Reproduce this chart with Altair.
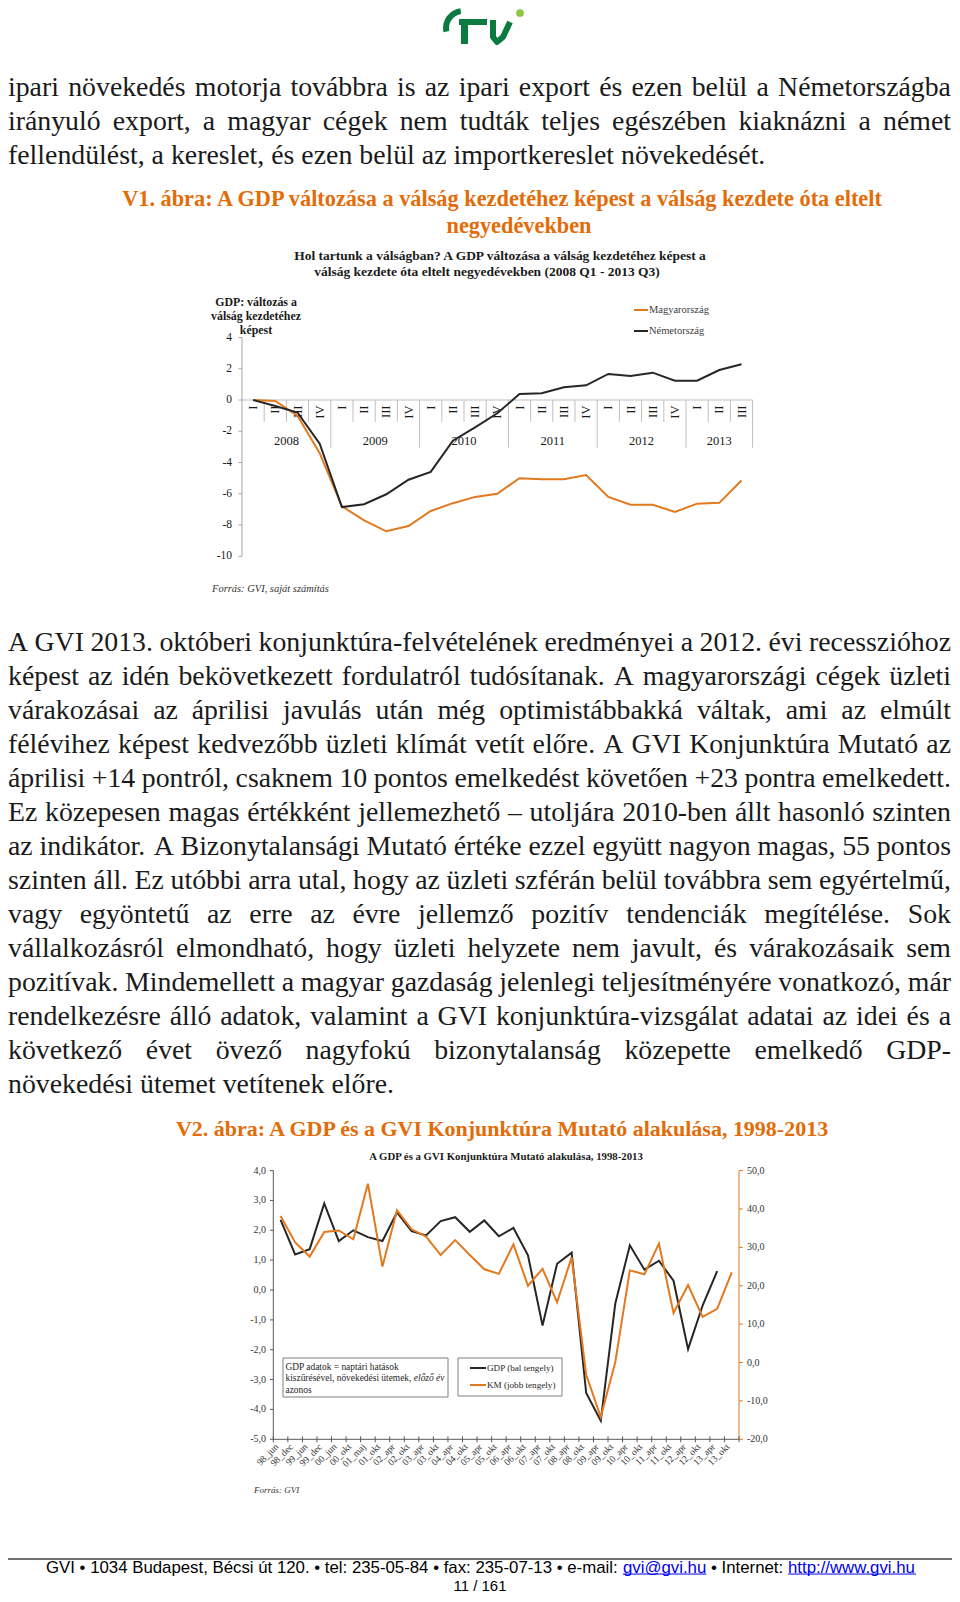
import unicodedata
import pandas as pd
import altair as alt

# ============================== DATA ==============================
para1_lines = [
    "ipari növekedés motorja továbbra is az ipari export és ezen belül a Németországba",
    "irányuló export, a magyar cégek nem tudták teljes egészében kiaknázni a német",
    "fellendülést, a kereslet, és ezen belül az importkereslet növekedését.",
]
v1_title = ["V1. ábra: A GDP változása a válság kezdetéhez képest a válság kezdete óta eltelt",
            "negyedévekben"]
c1_title = ["Hol tartunk a válságban? A GDP változása a válság kezdetéhez képest a",
            "válság kezdete óta eltelt negyedévekben (2008 Q1 - 2013 Q3)"]
c1_ytitle = ["GDP: változás a", "válság kezdetéhez", "képest"]
c1_series = ["Magyarország", "Németország"]
c1_quarters = ["I", "II", "III", "IV"] * 5 + ["I", "II", "III"]
c1_years = ["2008", "2009", "2010", "2011", "2012", "2013"]
c1_hungary = [0.0, -0.06, -1.0, -3.4, -6.8, -7.7, -8.4, -8.06, -7.1, -6.6, -6.2, -6.0,
              -5.0, -5.07, -5.07, -4.8, -6.2, -6.7, -6.7, -7.16, -6.63, -6.58, -5.15]
c1_germany = [0.0, -0.38, -0.8, -2.8, -6.85, -6.67, -6.03, -5.1, -4.6, -2.6, -1.75, -0.85,
              0.38, 0.43, 0.81, 0.94, 1.67, 1.54, 1.75, 1.24, 1.24, 1.92, 2.29]
c1_yticks = [4, 2, 0, -2, -4, -6, -8, -10]
c1_source = "Forrás: GVI, saját számítás"

para2_lines = [
    "A GVI 2013. októberi konjunktúra-felvételének eredményei a 2012. évi recesszióhoz",
    "képest az idén bekövetkezett fordulatról tudósítanak. A magyarországi cégek üzleti",
    "várakozásai az áprilisi javulás után még optimistábbakká váltak, ami az elmúlt",
    "félévihez képest kedvezőbb üzleti klímát vetít előre. A GVI Konjunktúra Mutató az",
    "áprilisi +14 pontról, csaknem 10 pontos emelkedést követően +23 pontra emelkedett.",
    "Ez közepesen magas értékként jellemezhető – utoljára 2010-ben állt hasonló szinten",
    "az indikátor. A Bizonytalansági Mutató értéke ezzel együtt nagyon magas, 55 pontos",
    "szinten áll. Ez utóbbi arra utal, hogy az üzleti szférán belül továbbra sem egyértelmű,",
    "vagy egyöntetű az erre az évre jellemző pozitív tendenciák megítélése. Sok",
    "vállalkozásról elmondható, hogy üzleti helyzete nem javult, és várakozásaik sem",
    "pozitívak. Mindemellett a magyar gazdaság jelenlegi teljesítményére vonatkozó, már",
    "rendelkezésre álló adatok, valamint a GVI konjunktúra-vizsgálat adatai az idei és a",
    "következő évet övező nagyfokú bizonytalanság közepette emelkedő GDP-",
    "növekedési ütemet vetítenek előre.",
]
v2_title = "V2. ábra: A GDP és a GVI Konjunktúra Mutató alakulása, 1998-2013"
c2_title = "A GDP és a GVI Konjunktúra Mutató alakulása, 1998-2013"
c2_periods = ["98_jun", "98_dec", "99_jun", "99_dec", "00_jun", "00_okt", "01_maj", "01_okt",
              "02_apr", "02_okt", "03_apr", "03_okt", "04_apr", "04_okt", "05_apr", "05_okt",
              "06_apr", "06_okt", "07_apr", "07_okt", "08_apr", "08_okt", "09_apr", "09_okt",
              "10_apr", "10_okt", "11_apr", "11_okt", "12_apr", "12_okt", "13_apr", "13_okt"]
c2_gdp = [2.35, 1.19, 1.37, 2.90, 1.64, 2.00, 1.77, 1.64, 2.60, 1.97, 1.83, 2.31, 2.44, 1.95,
          2.33, 1.80, 2.08, 1.16, -1.19, 0.88, 1.25, -3.45, -4.38, -0.45, 1.50, 0.68, 0.98,
          0.31, -1.98, -0.52, 0.63]
c2_km = [38.2, 31.3, 27.6, 34.0, 34.4, 32.1, 46.6, 25.0, 39.7, 34.7, 32.8, 28.0, 31.9, 28.0,
         24.3, 23.1, 30.8, 20.0, 24.4, 15.7, 27.4, -3.2, -14.2, 0.1, 24.0, 23.0, 31.0, 12.9,
         20.2, 11.9, 14.0, 23.5]
c2_left_ticks = [4, 3, 2, 1, 0, -1, -2, -3, -4, -5]
c2_right_ticks = [50, 40, 30, 20, 10, 0, -10, -20]
c2_note = ["GDP adatok = naptári hatások", "kiszűrésével, növekedési ütemek, ", "előző év", "azonos"]
c2_series = ["GDP (bal tengely)", "KM (jobb tengely)"]
c2_source = "Forrás: GVI"
footer_parts = [("GVI • 1034 Budapest, Bécsi út 120. • tel: 235-05-84 • fax: 235-07-13 • e-mail: ", False),
                ("gvi@gvi.hu", True), (" • Internet: ", False), ("http://www.gvi.hu", True)]
page_no = "11 / 161"

# ============================== FONT METRICS ==============================
TIMES = {' ': 250, ',': 250, '.': 250, ':': 278, ';': 278, '-': 333, '–': 500, '+': 564, '=': 564,
         '?': 444, '(': 333, ')': 333, '_': 500, '/': 278,
         'A': 722, 'B': 667, 'C': 667, 'D': 722, 'E': 611, 'F': 556, 'G': 722, 'H': 722, 'I': 333,
         'J': 389, 'K': 722, 'L': 611, 'M': 889, 'N': 722, 'O': 722, 'P': 556, 'Q': 722, 'R': 667,
         'S': 556, 'T': 611, 'U': 722, 'V': 722, 'W': 944, 'X': 722, 'Y': 722, 'Z': 611,
         'a': 444, 'b': 500, 'c': 444, 'd': 500, 'e': 444, 'f': 333, 'g': 500, 'h': 500, 'i': 278,
         'j': 278, 'k': 500, 'l': 278, 'm': 778, 'n': 500, 'o': 500, 'p': 500, 'q': 500, 'r': 333,
         's': 389, 't': 278, 'u': 500, 'v': 500, 'w': 722, 'x': 500, 'y': 500, 'z': 444}
TIMES_B = {' ': 250, ',': 250, '.': 250, ':': 333, '-': 333, '?': 500, '(': 333, ')': 333, '=': 570,
           'A': 722, 'B': 667, 'C': 722, 'D': 722, 'E': 667, 'F': 611, 'G': 778, 'H': 778, 'I': 389,
           'J': 500, 'K': 778, 'L': 667, 'M': 944, 'N': 722, 'O': 778, 'P': 611, 'Q': 778, 'R': 722,
           'S': 556, 'T': 667, 'U': 722, 'V': 722, 'W': 1000, 'X': 722, 'Y': 722, 'Z': 667,
           'a': 500, 'b': 556, 'c': 444, 'd': 556, 'e': 444, 'f': 333, 'g': 500, 'h': 556, 'i': 278,
           'j': 333, 'k': 556, 'l': 278, 'm': 833, 'n': 556, 'o': 500, 'p': 556, 'q': 556, 'r': 444,
           's': 389, 't': 333, 'u': 556, 'v': 500, 'w': 722, 'x': 500, 'y': 500, 'z': 444}
HELV = {' ': 278, '•': 350, ',': 278, '.': 278, ':': 278, '-': 333, '/': 278, '@': 1015,
        'A': 667, 'B': 667, 'C': 722, 'D': 722, 'E': 667, 'F': 611, 'G': 778, 'H': 722, 'I': 278,
        'J': 500, 'K': 667, 'L': 556, 'M': 833, 'N': 722, 'O': 778, 'P': 667, 'Q': 778, 'R': 722,
        'S': 667, 'T': 611, 'U': 722, 'V': 667, 'W': 944, 'X': 667, 'Y': 667, 'Z': 611,
        'a': 556, 'b': 556, 'c': 500, 'd': 556, 'e': 556, 'f': 278, 'g': 556, 'h': 556, 'i': 222,
        'j': 222, 'k': 500, 'l': 222, 'm': 833, 'n': 556, 'o': 556, 'p': 556, 'q': 556, 'r': 333,
        's': 500, 't': 278, 'u': 556, 'v': 500, 'w': 722, 'x': 500, 'y': 500, 'z': 500}
for d in "0123456789":
    TIMES[d] = 500
    TIMES_B[d] = 500
    HELV[d] = 556


def em(s, table):
    tot = 0
    for ch in s:
        v = table.get(ch)
        if v is None:
            v = table.get(unicodedata.normalize('NFD', ch)[0], 500)
        tot += v
    return tot / 1000.0


# ============================== STYLE ==============================
M = 8
W, H = 944, 1586
SERIF = "Liberation Serif"
SANS = "Liberation Sans"
ORANGE_T = "#E36C09"
ORANGE_L = "#E2791F"
DARK_L = "#262626"
TXT = "#1a1a1a"
GREY = "#A6A6A6"
GREEN = "#0B7A3E"
LGREEN = "#8DC63F"


def c(v):
    return v - M


def T(rows, **props):
    props.setdefault('font', SERIF)
    props.setdefault('baseline', 'middle')
    props.setdefault('color', TXT)
    return alt.Chart(pd.DataFrame(rows)).mark_text(**props).encode(
        x=alt.X('x:Q', scale=None, axis=None),
        y=alt.Y('y:Q', scale=None, axis=None),
        text=alt.Text('text:N'))


def justified(lines, x0, x1, y0, dy, fs):
    rows = []
    for i, line in enumerate(lines):
        words = line.split(' ')
        widths = [em(w, TIMES) * fs for w in words]
        gap = 0.25 * fs
        if i < len(lines) - 1 and len(words) > 1:
            gap = (x1 - x0 - sum(widths)) / (len(words) - 1)
        x = x0
        for w, wd in zip(words, widths):
            rows.append({'x': c(x), 'y': c(y0 + i * dy), 'text': w})
            x += wd + gap
    return rows


layers = []

# ============================== LOGO ==============================
layers.append(alt.Chart(pd.DataFrame({'a': [0]})).mark_arc(
    theta=4.5, theta2=6.15, radius=20, radius2=14, color=GREEN).encode(
    x=alt.value(c(463)), y=alt.value(c(28))))
layers.append(alt.Chart(pd.DataFrame({'x': [c(459), c(461)], 'x2': [c(487), c(468)],
                                      'y': [c(19), c(19)], 'y2': [c(25), c(44)]})).mark_rect(
    color=GREEN).encode(x=alt.X('x:Q', scale=None, axis=None), x2='x2:Q',
                        y=alt.Y('y:Q', scale=None, axis=None), y2='y2:Q'))
layers.append(alt.Chart(pd.DataFrame({'x': [c(493), c(493), c(497), c(503), c(510)],
                                      'y': [c(20), c(37), c(42), c(37), c(22)],
                                      'o': [0, 1, 2, 3, 4]})).mark_line(
    color=GREEN, strokeWidth=6, strokeJoin='round').encode(
    x=alt.X('x:Q', scale=None, axis=None), y=alt.Y('y:Q', scale=None, axis=None), order='o:Q'))
layers.append(alt.Chart(pd.DataFrame({'a': [0]})).mark_circle(size=60, color=LGREEN, opacity=1).encode(
    x=alt.value(c(520)), y=alt.value(c(13))))

# ============================== PARAGRAPHS ==============================
BODY_FS = 27.8
layers.append(T(justified(para1_lines, 8, 951, 88, 34, BODY_FS), fontSize=BODY_FS, align='left'))
layers.append(T(justified(para2_lines, 8, 951, 643, 34, BODY_FS), fontSize=BODY_FS, align='left'))

# ============================== FIGURE TITLES ==============================
fs_v = 764 / em(v1_title[0], TIMES_B)
layers.append(T([{'x': c(502), 'y': c(198.5), 'text': v1_title[0]},
                 {'x': c(519), 'y': c(226), 'text': v1_title[1]}],
                fontSize=fs_v, fontWeight='bold', color=ORANGE_T, align='center'))
layers.append(T([{'x': c(502), 'y': c(1129), 'text': v2_title}],
                fontSize=fs_v * 0.985, fontWeight='bold', color=ORANGE_T, align='center'))

# ============================== CHART 1 ==============================
X1 = alt.Scale(domain=[-0.5, 22.5], range=[c(242), c(752.6)], nice=False, zero=False)
Y1 = alt.Scale(domain=[-10, 4], range=[c(556.3), c(337.5)], nice=False, zero=False)

fs_c1 = 346 / em(c1_title[1], TIMES_B)
layers.append(T([{'x': c(500), 'y': c(256), 'text': c1_title[0]},
                 {'x': c(487), 'y': c(272), 'text': c1_title[1]}],
                fontSize=fs_c1, fontWeight='bold', align='center'))
fs_yt = 90 / em(c1_ytitle[1], TIMES_B)
layers.append(T([{'x': c(256), 'y': c(302 + 14 * i), 'text': t} for i, t in enumerate(c1_ytitle)],
                fontSize=fs_yt, fontWeight='bold', align='center'))

# axes
layers.append(alt.Chart(pd.DataFrame({'a': [4], 'b': [-10]})).mark_rule(color=GREY, strokeWidth=1).encode(
    x=alt.value(c(242)), y=alt.Y('a:Q', scale=Y1, axis=None), y2='b:Q'))
df_t1 = pd.DataFrame({'v': c1_yticks, 'label': [str(v) for v in c1_yticks]})
layers.append(alt.Chart(df_t1).mark_rule(color=GREY).encode(
    x=alt.value(c(238.5)), x2=alt.value(c(242)), y=alt.Y('v:Q', scale=Y1, axis=None)))
layers.append(alt.Chart(df_t1).mark_text(font=SERIF, fontSize=11.5, align='right', baseline='middle',
                                          color=TXT).encode(
    x=alt.value(c(232)), y=alt.Y('v:Q', scale=Y1, axis=None), text='label:N'))
layers.append(alt.Chart(pd.DataFrame({'a': [-0.5], 'b': [22.5], 'y': [0]})).mark_rule(
    color="#BFBFBF", strokeWidth=1).encode(
    x=alt.X('a:Q', scale=X1, axis=None), x2='b:Q', y=alt.Y('y:Q', scale=Y1, axis=None)))

# category separators (quarters short, years long)
n_q = len(c1_quarters)
year_start = [i for i, q in enumerate(c1_quarters) if q == "I"]
sep_rows = []
for b in range(1, n_q + 1):
    long_sep = (b in year_start) or b == n_q
    sep_rows.append({'b': b - 0.5, 'y0': 0, 'y1': -3.05 if long_sep else -1.4})
layers.append(alt.Chart(pd.DataFrame(sep_rows)).mark_rule(color="#BFBFBF", strokeWidth=1).encode(
    x=alt.X('b:Q', scale=X1, axis=None), y=alt.Y('y0:Q', scale=Y1, axis=None), y2='y1:Q'))

# quarter labels and year labels
layers.append(alt.Chart(pd.DataFrame({'k': list(range(n_q)), 'q': c1_quarters, 'y': [-0.35] * n_q})).mark_text(
    font=SERIF, fontSize=12.5, angle=270, align='right', baseline='middle', color=TXT).encode(
    x=alt.X('k:Q', scale=X1, axis=None), y=alt.Y('y:Q', scale=Y1, axis=None), text='q:N'))
year_rows = []
for j, yr in enumerate(c1_years):
    s = year_start[j]
    e = year_start[j + 1] if j + 1 < len(year_start) else n_q
    year_rows.append({'k': (s + e - 1) / 2, 'label': yr, 'y': -2.65})
layers.append(alt.Chart(pd.DataFrame(year_rows)).mark_text(
    font=SERIF, fontSize=12.5, align='center', baseline='middle', color=TXT).encode(
    x=alt.X('k:Q', scale=X1, axis=None), y=alt.Y('y:Q', scale=Y1, axis=None), text='label:N'))

# lines
df1 = pd.DataFrame({'k': list(range(n_q)), 'hu': c1_hungary, 'de': c1_germany})
layers.append(alt.Chart(df1).mark_line(color=ORANGE_L, strokeWidth=2).encode(
    x=alt.X('k:Q', scale=X1, axis=None), y=alt.Y('hu:Q', scale=Y1, axis=None)))
layers.append(alt.Chart(df1).mark_line(color=DARK_L, strokeWidth=2).encode(
    x=alt.X('k:Q', scale=X1, axis=None), y=alt.Y('de:Q', scale=Y1, axis=None)))

# legend
fs_l1 = 60 / em(c1_series[0], TIMES)
for i, (name, col) in enumerate(zip(c1_series, [ORANGE_L, DARK_L])):
    yy = 310 + 21 * i
    layers.append(alt.Chart(pd.DataFrame({'a': [0]})).mark_rule(color=col, strokeWidth=2).encode(
        x=alt.value(c(634)), x2=alt.value(c(648)), y=alt.value(c(yy))))
    layers.append(T([{'x': c(649), 'y': c(yy), 'text': name}], fontSize=fs_l1, align='left',
                    color="#404040"))

fs_src = 114 / em(c1_source, TIMES)
layers.append(T([{'x': c(212), 'y': c(588.5), 'text': c1_source}], fontSize=fs_src,
                fontStyle='italic', align='left', color="#333333"))

# ============================== CHART 2 ==============================
X2 = alt.Scale(domain=[-0.5, 31.5], range=[c(273.3), c(739)], nice=False, zero=False)
Y2L = alt.Scale(domain=[-5, 4], range=[c(1439.3), c(1170.6)], nice=False, zero=False)
Y2R = alt.Scale(domain=[-20, 50], range=[c(1439.3), c(1170.6)], nice=False, zero=False)

fs_c2 = 275 / em(c2_title, TIMES_B)
layers.append(T([{'x': c(506), 'y': c(1157), 'text': c2_title}], fontSize=fs_c2,
                fontWeight='bold', align='center'))

AX2 = "#595959"
layers.append(alt.Chart(pd.DataFrame({'a': [4], 'b': [-5]})).mark_rule(color=AX2).encode(
    x=alt.value(c(273.3)), y=alt.Y('a:Q', scale=Y2L, axis=None), y2='b:Q'))
layers.append(alt.Chart(pd.DataFrame({'a': [50], 'b': [-20]})).mark_rule(color=ORANGE_L).encode(
    x=alt.value(c(739)), y=alt.Y('a:Q', scale=Y2R, axis=None), y2='b:Q'))
layers.append(alt.Chart(pd.DataFrame({'a': [-0.5], 'b': [31.5], 'y': [-5]})).mark_rule(color=AX2).encode(
    x=alt.X('a:Q', scale=X2, axis=None), x2='b:Q', y=alt.Y('y:Q', scale=Y2L, axis=None)))

df_l2 = pd.DataFrame({'v': c2_left_ticks,
                      'label': [f"{v:.1f}".replace('.', ',') for v in c2_left_ticks]})
layers.append(alt.Chart(df_l2).mark_rule(color=AX2).encode(
    x=alt.value(c(270)), x2=alt.value(c(273.3)), y=alt.Y('v:Q', scale=Y2L, axis=None)))
layers.append(alt.Chart(df_l2).mark_text(font=SERIF, fontSize=10, align='right', baseline='middle',
                                          color="#333333").encode(
    x=alt.value(c(266)), y=alt.Y('v:Q', scale=Y2L, axis=None), text='label:N'))
df_r2 = pd.DataFrame({'v': c2_right_ticks,
                      'label': [f"{v:.1f}".replace('.', ',') for v in c2_right_ticks]})
layers.append(alt.Chart(df_r2).mark_rule(color=ORANGE_L).encode(
    x=alt.value(c(739)), x2=alt.value(c(743)), y=alt.Y('v:Q', scale=Y2R, axis=None)))
layers.append(alt.Chart(df_r2).mark_text(font=SERIF, fontSize=10, align='left', baseline='middle',
                                          color="#333333").encode(
    x=alt.value(c(747)), y=alt.Y('v:Q', scale=Y2R, axis=None), text='label:N'))

n_p = len(c2_periods)
layers.append(alt.Chart(pd.DataFrame({'b': [i - 0.5 for i in range(n_p + 1)],
                                      'y0': [-5.1] * (n_p + 1), 'y1': [-4.9] * (n_p + 1)})).mark_rule(
    color=AX2).encode(x=alt.X('b:Q', scale=X2, axis=None), y=alt.Y('y0:Q', scale=Y2L, axis=None),
                      y2='y1:Q'))
layers.append(alt.Chart(pd.DataFrame({'k': [i - 0.25 for i in range(n_p)], 'p': c2_periods,
                                      'y': [-5.2] * n_p})).mark_text(
    font=SERIF, fontSize=9.5, angle=315, align='right', baseline='middle', color="#333333").encode(
    x=alt.X('k:Q', scale=X2, axis=None), y=alt.Y('y:Q', scale=Y2L, axis=None), text='p:N'))

df_gdp = pd.DataFrame({'k': list(range(len(c2_gdp))), 'v': c2_gdp})
df_km = pd.DataFrame({'k': list(range(len(c2_km))), 'v': c2_km})
layers.append(alt.Chart(df_gdp).mark_line(color=DARK_L, strokeWidth=2).encode(
    x=alt.X('k:Q', scale=X2, axis=None), y=alt.Y('v:Q', scale=Y2L, axis=None)))
layers.append(alt.Chart(df_km).mark_line(color=ORANGE_L, strokeWidth=2).encode(
    x=alt.X('k:Q', scale=X2, axis=None), y=alt.Y('v:Q', scale=Y2R, axis=None)))

# note / legend boxes
layers.append(alt.Chart(pd.DataFrame({'x': [c(283), c(458)], 'x2': [c(448), c(562)],
                                      'y': [c(1358), c(1358)], 'y2': [c(1397), c(1396)]})).mark_rect(
    fill='white', stroke="#7F7F7F", strokeWidth=1).encode(
    x=alt.X('x:Q', scale=None, axis=None), x2='x2:Q', y=alt.Y('y:Q', scale=None, axis=None), y2='y2:Q'))
fs_note = 160 / em(c2_note[1] + c2_note[2], TIMES)
layers.append(T([{'x': c(285.5), 'y': c(1367), 'text': c2_note[0]},
                 {'x': c(285.5), 'y': c(1378.3), 'text': c2_note[1]},
                 {'x': c(285.5), 'y': c(1389.6), 'text': c2_note[3]}],
                fontSize=fs_note, align='left', color="#262626"))
layers.append(T([{'x': c(285.5) + em(c2_note[1], TIMES) * fs_note, 'y': c(1378.3), 'text': c2_note[2]}],
                fontSize=fs_note, align='left', fontStyle='italic', color="#262626"))
fs_l2 = 67 / em(c2_series[0], TIMES)
for i, (name, col) in enumerate(zip(c2_series, [DARK_L, ORANGE_L])):
    yy = 1368 + 17 * i
    layers.append(alt.Chart(pd.DataFrame({'a': [0]})).mark_rule(color=col, strokeWidth=2).encode(
        x=alt.value(c(470)), x2=alt.value(c(486)), y=alt.value(c(yy))))
    layers.append(T([{'x': c(487), 'y': c(yy), 'text': name}], fontSize=fs_l2, align='left',
                    color="#262626"))

layers.append(T([{'x': c(254), 'y': c(1490), 'text': c2_source}], fontSize=9,
                fontStyle='italic', align='left', color="#333333"))

# ============================== FOOTER ==============================
layers.append(alt.Chart(pd.DataFrame({'a': [0]})).mark_rule(color="#404040", strokeWidth=1.5).encode(
    x=alt.value(0), x2=alt.value(W), y=alt.value(c(1559))))
full = "".join(p for p, _ in footer_parts)
fs_f = 870 / em(full, HELV)
x = 481 - em(full, HELV) * fs_f / 2
y_f = 1567.5
plain_rows, link_rows, ul_rows = [], [], []
for part, is_link in footer_parts:
    lead = len(part) - len(part.lstrip(' '))
    core = part.strip(' ')
    trail = len(part) - lead - len(core)
    x += lead * HELV[' '] / 1000.0 * fs_f
    wd = em(core, HELV) * fs_f
    if is_link:
        link_rows.append({'x': c(x), 'y': c(y_f), 'text': core})
        ul_rows.append({'x': c(x), 'x2': c(x + wd), 'y': c(y_f + 0.3 * fs_f + 1.5)})
    else:
        plain_rows.append({'x': c(x), 'y': c(y_f), 'text': core})
    x += wd + trail * HELV[' '] / 1000.0 * fs_f
layers.append(T(plain_rows, font=SANS, fontSize=fs_f, align='left', color="#000000"))
layers.append(T(link_rows, font=SANS, fontSize=fs_f, align='left', color="#0000EE"))
layers.append(alt.Chart(pd.DataFrame(ul_rows)).mark_rule(color="#0000EE", strokeWidth=1).encode(
    x=alt.X('x:Q', scale=None, axis=None), x2='x2:Q', y=alt.Y('y:Q', scale=None, axis=None)))
layers.append(T([{'x': c(480), 'y': c(1586), 'text': page_no}], font=SANS, fontSize=15,
                align='center', color="#000000"))

chart = alt.layer(*layers).resolve_scale(x='independent', y='independent').properties(
    width=W, height=H, padding=0, autosize=alt.AutoSizeParams(type='none')
).configure_view(strokeWidth=0)

chart.save("out.html", embed_options={"renderer": "svg", "actions": False})
